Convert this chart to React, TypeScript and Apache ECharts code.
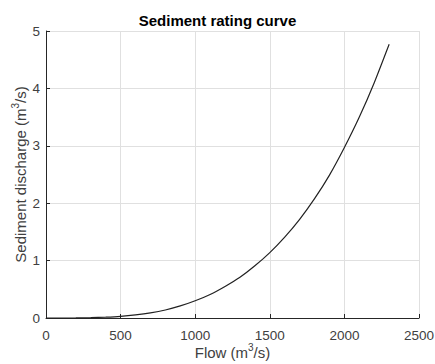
import React, { useEffect, useRef } from "react";
import * as echarts from "echarts";

const flow = [0, 100, 200, 300, 400, 500, 600, 700, 800, 900, 1000, 1100, 1200, 1300, 1400, 1500, 1600, 1700, 1800, 1900, 2000, 2100, 2200, 2300];
const sediment = [0, 0.0001, 0.001, 0.005, 0.015, 0.03, 0.055, 0.09, 0.14, 0.21, 0.30, 0.41, 0.55, 0.71, 0.91, 1.14, 1.41, 1.72, 2.08, 2.49, 2.97, 3.50, 4.10, 4.77];
const xTicks = [0, 500, 1000, 1500, 2000, 2500];
const yTicks = [0, 1, 2, 3, 4, 5];
const title = "Sediment rating curve";
const xName = "Flow (m{sup|3}/s)";
const yName = "Sediment discharge (m{sup|3}/s)";

const FONT = "'Liberation Sans', Arial, Helvetica, sans-serif";
const AXIS = "#262626";
const LABEL = "#404040";
const GRID = "#e0e0e0";

export default function App() {
  const ref = useRef<HTMLDivElement>(null);
  useEffect(() => {
    if (!ref.current) return;
    const chart = echarts.init(ref.current, null, { renderer: "svg" });
    const sup = { fontSize: 10, verticalAlign: "top", color: LABEL, fontFamily: FONT, lineHeight: 20 };
    chart.setOption({
      animation: false,
      backgroundColor: "#ffffff",
      title: {
        text: title,
        left: "center",
        top: 8,
        textStyle: { fontFamily: FONT, fontSize: 15, fontWeight: "bold", color: "#000" },
      },
      grid: { left: 46, right: 16, top: 31, bottom: 46, containLabel: false, outerBoundsMode: "none" },
      xAxis: {
        type: "value",
        min: xTicks[0],
        max: xTicks[xTicks.length - 1],
        interval: 500,
        name: xName,
        nameLocation: "middle",
        nameGap: 24,
        nameMoveOverlap: false,
        nameTextStyle: { fontFamily: FONT, fontSize: 15, color: LABEL, lineHeight: 20, rich: { sup } },
        axisLine: { show: true, lineStyle: { color: AXIS, width: 1 } },
        axisTick: { show: true, inside: true, length: 4, lineStyle: { color: AXIS } },
        axisLabel: { fontFamily: FONT, fontSize: 13.5, color: LABEL, margin: 10, formatter: (v: number) => String(v) },
        splitLine: { show: true, lineStyle: { color: GRID, width: 1 } },
      },
      yAxis: {
        type: "value",
        min: yTicks[0],
        max: yTicks[yTicks.length - 1],
        interval: 1,
        name: yName,
        nameLocation: "middle",
        nameGap: 16,
        nameMoveOverlap: false,
        nameTextStyle: { fontFamily: FONT, fontSize: 15, color: LABEL, lineHeight: 20, rich: { sup } },
        axisLine: { show: true, lineStyle: { color: AXIS, width: 1 } },
        axisTick: { show: true, inside: true, length: 4, lineStyle: { color: AXIS } },
        axisLabel: { fontFamily: FONT, fontSize: 13.5, color: LABEL, margin: 6, formatter: (v: number) => String(v) },
        splitLine: { show: true, lineStyle: { color: GRID, width: 1 } },
      },
      series: [
        {
          type: "line",
          data: flow.map((f, i) => [f, sediment[i]]),
          showSymbol: false,
          smooth: 0.2,
          lineStyle: { color: "#222", width: 1.2 },
        },
      ],
    });
    return () => chart.dispose();
  }, []);
  return <div ref={ref} style={{ width: 435, height: 364, position: "absolute", left: 0, top: 0 }} />;
}
